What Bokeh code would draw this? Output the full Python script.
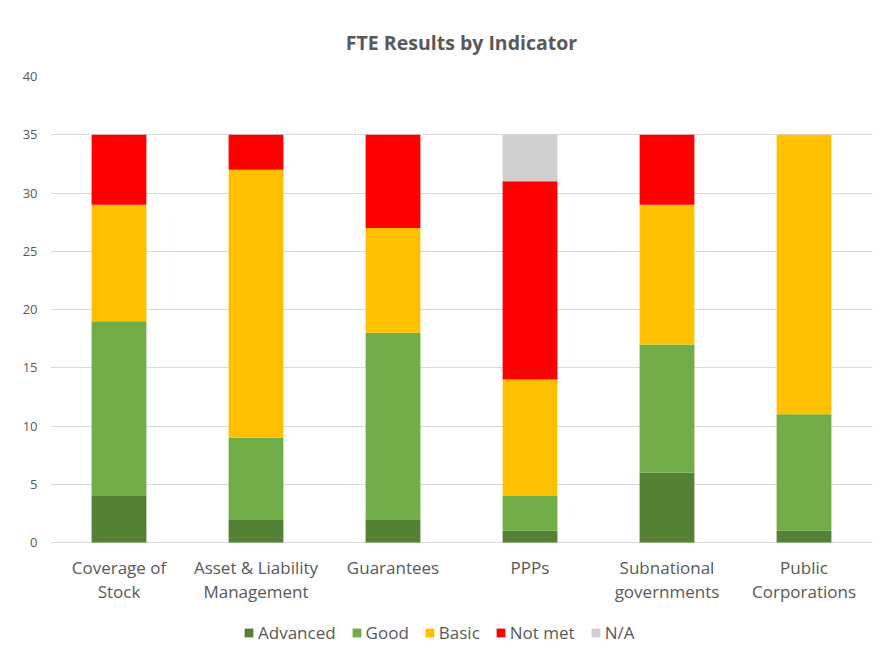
from bokeh.plotting import figure
from bokeh.models import Legend, Range1d, FactorRange
from bokeh.core.properties import value
from bokeh.embed import file_html
from bokeh.resources import INLINE

categories = ["Coverage of\nStock", "Asset & Liability\nManagement", "Guarantees",
              "PPPs", "Subnational\ngovernments", "Public\nCorporations"]
series = ["Advanced", "Good", "Basic", "Not met", "N/A"]
advanced = [4, 2, 2, 1, 6, 1]
good = [15, 7, 16, 3, 11, 10]
basic = [10, 23, 9, 10, 12, 24]
not_met = [6, 3, 8, 17, 6, 0]
na = [0, 0, 0, 4, 0, 0]
colors = ["#548235", "#70AD47", "#FFC000", "#FF0000", "#D0CECE"]
yticks = [0, 5, 10, 15, 20, 25, 30, 35, 40]

FONT = "Open Sans"
GREY = "#595959"

# layout (pixels)
FRAME_H_DATA = 466      # pixel height of the 0..40 band
BOTTOM_EXTRA = 111      # frame continues below zero for labels + legend
y_min = -max(yticks) * BOTTOM_EXTRA / FRAME_H_DATA

data = {"cat": categories, "Advanced": advanced, "Good": good, "Basic": basic,
        "Not met": not_met, "N/A": na}

p = figure(x_range=FactorRange(*categories, range_padding=0),
           y_range=Range1d(y_min, max(yticks)),
           frame_width=822, frame_height=FRAME_H_DATA + BOTTOM_EXTRA,
           output_backend="svg", toolbar_location=None,
           min_border_left=50, min_border_right=6, min_border_top=76, min_border_bottom=0)

p.title.text = "FTE Results by Indicator"
p.title.align = "center"
p.title.text_font = FONT
p.title.text_font_size = "19.5px"
p.title.text_font_style = "bold"
p.title.text_color = GREY
p.title.standoff = 41

renderers = p.vbar_stack(series, x="cat", width=0.4, color=colors, source=data,
                         line_color=None)

# category labels under the zero line
p.text(x=categories, y=[min(yticks)] * len(categories), text=categories,
       text_font=value(FONT), text_font_size="17px", text_color=GREY,
       text_align="center", text_baseline="top", text_line_height=1.05,
       y_offset=13)

legend = Legend(items=[(s, [r]) for s, r in zip(series, renderers)],
                orientation="horizontal", location=(193, 9))
legend.label_text_font = FONT
legend.label_text_font_size = "17px"
legend.label_text_color = GREY
legend.glyph_width = 11
legend.glyph_height = 11
legend.spacing = 15
legend.label_standoff = 4
legend.border_line_color = None
legend.background_fill_alpha = 0
legend.margin = 0
legend.padding = 0
p.add_layout(legend, "center")

p.yaxis.ticker = yticks
p.yaxis.axis_line_color = None
p.yaxis.major_tick_line_color = None
p.yaxis.minor_tick_line_color = None
p.yaxis.major_label_text_font = FONT
p.yaxis.major_label_text_font_size = "13px"
p.yaxis.major_label_text_color = GREY
p.yaxis.major_label_standoff = 7

p.xaxis.visible = False
p.xgrid.grid_line_color = None
p.ygrid.grid_line_color = "#D9D9D9"
p.ygrid.grid_line_width = 1
p.outline_line_color = None

open("out.html", "w").write(file_html(p, INLINE))
